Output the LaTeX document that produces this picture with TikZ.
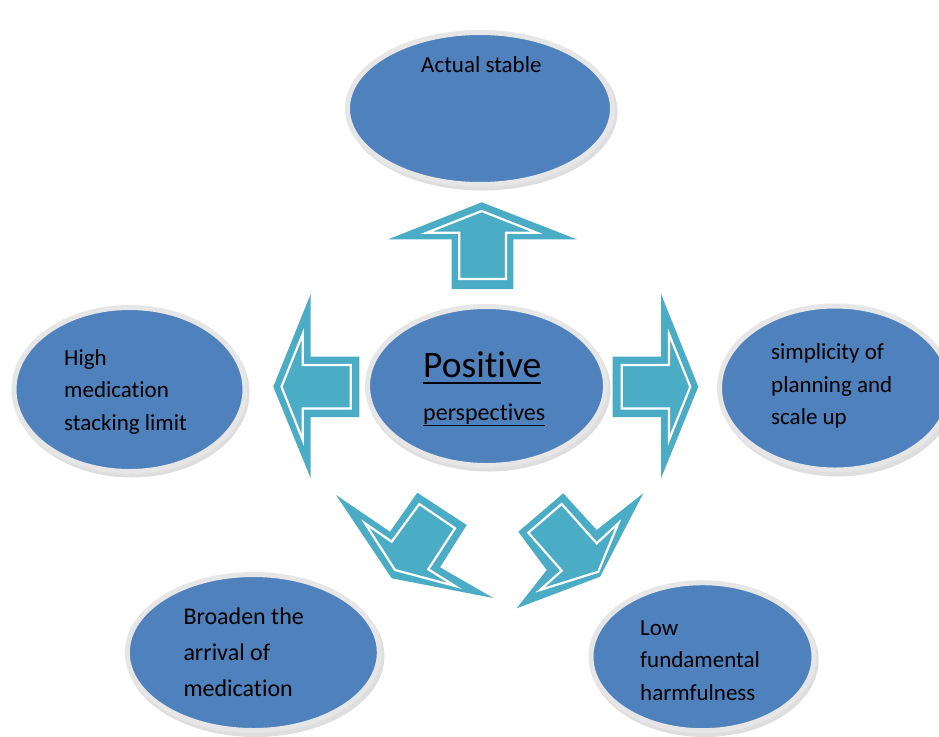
\documentclass[tikz,border=0pt]{standalone}
\usepackage{fontspec}
\setmainfont{Carlito}[Ligatures=NoCommon]
\usetikzlibrary{shapes.geometric}
\definecolor{ellblue}{HTML}{4F81BD}
\definecolor{aqua}{HTML}{4BACC6}
\definecolor{ringc}{HTML}{E6E6E6}
\begin{document}
\begin{tikzpicture}[x=1pt,y=-1pt,
  bubble/.style={ellipse, fill=ellblue, draw=ringc, line width=5pt, inner sep=0pt},
  softshadow/.style={fill=black, opacity=0.13},
  lbl/.style={inner sep=0pt, anchor=base west, align=left, text=black,
              font=\fontsize{23}{32.3}\selectfont},
  arrowout/.style={fill=aqua},
  arrowin/.style={fill=aqua, draw=white, line width=2.2pt, line join=miter},
]
\useasboundingbox (0,0) rectangle (939,736);
\fill[white] (0,0) rectangle (939,736);

% shadows
\fill[softshadow] (482.5,111.5) ellipse [x radius=135, y radius=79];
\fill[softshadow] (488.5,389.5) ellipse [x radius=122, y radius=82];
\fill[softshadow] (131.5,392.5) ellipse [x radius=118, y radius=85];
\fill[softshadow] (837.5,391.5) ellipse [x radius=118, y radius=85];
\fill[softshadow] (255.5,656) ellipse [x radius=129, y radius=81];
\fill[softshadow] (704.5,660) ellipse [x radius=114, y radius=77];

% ellipses
\node[bubble, minimum width=265pt, minimum height=152pt] (T)  at (480,108.5) {};
\node[bubble, minimum width=238pt, minimum height=159pt] (C)  at (486.5,386) {};
\node[bubble, minimum width=231pt, minimum height=164pt] (L)  at (129.5,389.5) {};
\node[bubble, minimum width=231pt, minimum height=164pt] (R)  at (835,388) {};
\node[bubble, minimum width=252pt, minimum height=156pt] (BL) at (253.3,652.5) {};
\node[bubble, minimum width=223pt, minimum height=148pt] (BR) at (702.5,656.7) {};

% texts (base anchor = baseline of the last line)
\node[lbl] (tT) at (421,72.7) {Actual stable};
\node[lbl] (tL) at (64,430) {High\\medication\\stacking limit};
\node[lbl] (tR) at (771,424.3) {simplicity of\\planning and\\scale up};
\node[lbl, font=\fontsize{24}{36}\selectfont] (tBL) at (183.3,696) {Broaden the\\arrival of\\medication};
\node[lbl] (tBR) at (640,700) {Low\\fundamental\\harmfulness};
\node[lbl, font=\fontsize{37.5}{40}\selectfont] (tC1) at (423,377.3) {Positive};
\node[lbl, font=\fontsize{24}{30}\selectfont] (tC2) at (423,420.7) {perspectives};
\draw[line width=2pt] ([yshift=-6pt]tC1.base west) -- ([yshift=-6pt]tC1.base east);
\draw[line width=1.4pt] ([yshift=-4.6pt]tC2.base west) -- ([yshift=-4.6pt]tC2.base east);

% up arrow
\fill[arrowout] (481.7,202.3) -- (576.7,239.3) -- (513.3,239.3) -- (513.3,289)
  -- (451.7,289) -- (451.7,239.3) -- (388.3,239.3) -- cycle;
\filldraw[arrowin] (481.7,211) -- (536.7,232.7) -- (506,232.7) -- (506,279)
  -- (459.3,279) -- (459.3,232.7) -- (426.7,232.7) -- cycle;

% left arrow
\fill[arrowout] (273.3,386.7) -- (310.7,294) -- (310.7,356.5) -- (359.3,356.5)
  -- (359.3,417) -- (310.7,417) -- (310.7,478.3) -- cycle;
\filldraw[arrowin] (281.5,386.7) -- (302.7,334) -- (302.7,365) -- (350.7,365)
  -- (350.7,408.5) -- (302.7,408.5) -- (302.7,440) -- cycle;

% right arrow
\fill[arrowout] (698.3,386.7) -- (661,294) -- (661,356.5) -- (612.7,356.5)
  -- (612.7,417) -- (661,417) -- (661,478.3) -- cycle;
\filldraw[arrowin] (690.3,386.7) -- (669,334) -- (669,365) -- (621.7,365)
  -- (621.7,408.5) -- (669,408.5) -- (669,440) -- cycle;

% bottom-left arrow
\fill[arrowout] (336,495) -- (391.7,578.3) -- (493.3,598) -- (440,567.3)
  -- (466.7,525) -- (417.3,492.7) -- (390,531.7) -- cycle;
\filldraw[arrowin] (365,523.3) -- (395,570) -- (455,586) -- (428.3,569.3)
  -- (455,528.3) -- (419.3,504) -- (391.7,541.7) -- cycle;

% bottom-right arrow
\fill[arrowout] (518.3,531.7) -- (563.3,493.3) -- (596.7,530) -- (643.3,493.3)
  -- (600,576.7) -- (516.7,608.3) -- (546.7,570) -- cycle;
\filldraw[arrowin] (528.3,532.7) -- (561.7,504) -- (596.7,543.3) -- (618.3,523.3)
  -- (598.3,571.7) -- (540,590) -- (561.7,570.7) -- cycle;
\end{tikzpicture}
\end{document}
